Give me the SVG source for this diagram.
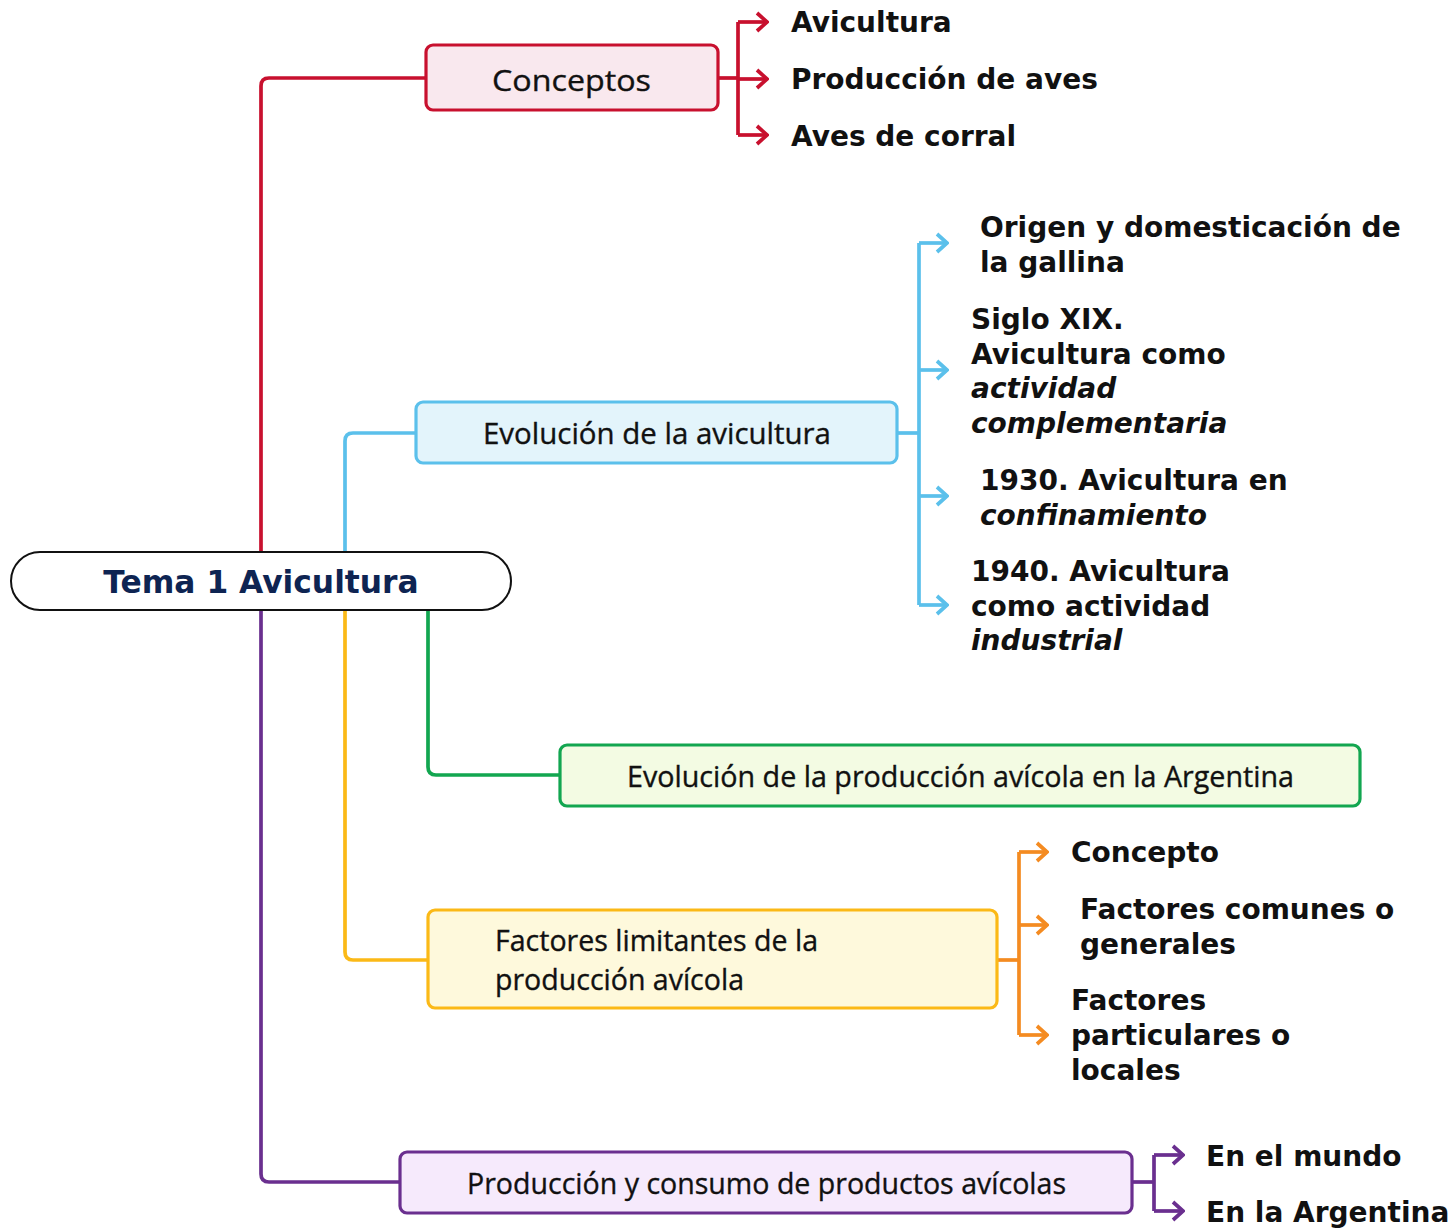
<svg xmlns="http://www.w3.org/2000/svg" width="1456" height="1229" viewBox="0 0 1456 1229">
<style>
.box{stroke-width:3.2}
.lbl{font-family:"Open Sans","Noto Sans","Liberation Sans",sans-serif;font-size:29px;fill:#111;stroke:#111;stroke-width:0.35}
.leaf{font-family:"DejaVu Sans","Verdana",sans-serif;font-weight:bold;font-size:28px;fill:#111}
.it{font-style:italic}
.ln{fill:none;stroke-width:3.7;stroke-linejoin:round}
</style>
<defs>
<marker id="mr" markerUnits="userSpaceOnUse" markerWidth="14" markerHeight="22" viewBox="0 0 14 22" refX="12" refY="11" orient="auto"><path d="M2,2 L12,11 L2,20" fill="none" stroke="#c8102e" stroke-width="3.7"/></marker>
<marker id="mb" markerUnits="userSpaceOnUse" markerWidth="14" markerHeight="22" viewBox="0 0 14 22" refX="12" refY="11" orient="auto"><path d="M2,2 L12,11 L2,20" fill="none" stroke="#5bc0eb" stroke-width="3.7"/></marker>
<marker id="mo" markerUnits="userSpaceOnUse" markerWidth="14" markerHeight="22" viewBox="0 0 14 22" refX="12" refY="11" orient="auto"><path d="M2,2 L12,11 L2,20" fill="none" stroke="#f48b21" stroke-width="3.7"/></marker>
<marker id="mp" markerUnits="userSpaceOnUse" markerWidth="14" markerHeight="22" viewBox="0 0 14 22" refX="12" refY="11" orient="auto"><path d="M2,2 L12,11 L2,20" fill="none" stroke="#6a2f8f" stroke-width="3.7"/></marker>
</defs>
<rect width="1456" height="1229" fill="#fff"/>
<g id="connectors">
<path class="ln" stroke="#c8102e" d="M261,552 V86 Q261,78 269,78 H426"/>
<path class="ln" stroke="#5bc0eb" d="M345,552 V441 Q345,433 353,433 H416"/>
<path class="ln" stroke="#12a650" d="M428,610 V767 Q428,775 436,775 H560"/>
<path class="ln" stroke="#fbb917" d="M345,610 V952 Q345,960 353,960 H428"/>
<path class="ln" stroke="#6a2f8f" d="M261,610 V1174 Q261,1182 269,1182 H400"/>
<path class="ln" stroke="#c8102e" d="M718,78 H738"/>
<path class="ln" stroke="#c8102e" d="M738,22 V135"/>
<path class="ln" stroke="#c8102e" marker-end="url(#mr)" d="M738,22 H767"/>
<path class="ln" stroke="#c8102e" marker-end="url(#mr)" d="M738,79 H767"/>
<path class="ln" stroke="#c8102e" marker-end="url(#mr)" d="M738,135 H767"/>
<path class="ln" stroke="#5bc0eb" d="M897,433 H919"/>
<path class="ln" stroke="#5bc0eb" d="M919,243 V605"/>
<path class="ln" stroke="#5bc0eb" marker-end="url(#mb)" d="M919,243 H947"/>
<path class="ln" stroke="#5bc0eb" marker-end="url(#mb)" d="M919,370 H947"/>
<path class="ln" stroke="#5bc0eb" marker-end="url(#mb)" d="M919,496 H947"/>
<path class="ln" stroke="#5bc0eb" marker-end="url(#mb)" d="M919,605 H947"/>
<path class="ln" stroke="#f48b21" d="M997,960 H1019"/>
<path class="ln" stroke="#f48b21" d="M1019,852 V1035"/>
<path class="ln" stroke="#f48b21" marker-end="url(#mo)" d="M1019,852 H1047"/>
<path class="ln" stroke="#f48b21" marker-end="url(#mo)" d="M1019,925 H1047"/>
<path class="ln" stroke="#f48b21" marker-end="url(#mo)" d="M1019,1035 H1047"/>
<path class="ln" stroke="#6a2f8f" d="M1132,1182 H1154"/>
<path class="ln" stroke="#6a2f8f" d="M1154,1155 V1211"/>
<path class="ln" stroke="#6a2f8f" marker-end="url(#mp)" d="M1154,1155 H1183"/>
<path class="ln" stroke="#6a2f8f" marker-end="url(#mp)" d="M1154,1211 H1183"/>
</g>
<g id="center">
<rect x="11" y="552" width="500" height="58" rx="29" fill="#fff" stroke="#111" stroke-width="2"/>
<text x="261" y="593" text-anchor="middle" font-family="DejaVu Sans, Verdana, sans-serif" font-weight="bold" font-size="31.3" fill="#0e2452">Tema 1 Avicultura</text>
</g>
<g id="conceptos">
<rect class="box" x="426" y="45" width="292" height="65" rx="7" fill="#f9e8ee" stroke="#c8102e"/>
<text class="lbl" x="492" y="91" font-size="31" textLength="159" lengthAdjust="spacingAndGlyphs">Conceptos</text>
</g>
<g id="conceptos-hijos">
<text class="leaf" x="791" y="32">Avicultura</text>
<text class="leaf" x="791" y="89">Producción de aves</text>
<text class="leaf" x="791" y="146">Aves de corral</text>
</g>
<g id="evolucion">
<rect class="box" x="416" y="402" width="481" height="61" rx="7" fill="#e3f4fb" stroke="#5bc0eb"/>
<text class="lbl" x="483" y="444" textLength="348" lengthAdjust="spacingAndGlyphs">Evolución de la avicultura</text>
</g>
<g id="evolucion-hijos">
<text class="leaf" x="980" y="237">Origen y domesticación de</text>
<text class="leaf" x="980" y="272">la gallina</text>
<text class="leaf" x="971" y="329">Siglo XIX.</text>
<text class="leaf" x="971" y="364">Avicultura como</text>
<text class="leaf it" x="971" y="398">actividad</text>
<text class="leaf it" x="971" y="433">complementaria</text>
<text class="leaf" x="980" y="490">1930. Avicultura en</text>
<text class="leaf it" x="980" y="525">confinamiento</text>
<text class="leaf" x="971" y="581">1940. Avicultura</text>
<text class="leaf" x="971" y="616">como actividad</text>
<text class="leaf it" x="971" y="650">industrial</text>
</g>
<g id="argentina">
<rect class="box" x="560" y="745" width="800" height="61" rx="7" fill="#f3fbe3" stroke="#12a650"/>
<text class="lbl" x="627" y="787" textLength="667" lengthAdjust="spacingAndGlyphs">Evolución de la producción avícola en la Argentina</text>
</g>
<g id="factores">
<rect class="box" x="428" y="910" width="569" height="98" rx="7" fill="#fef9dc" stroke="#fbb917"/>
<text class="lbl" x="495" y="951" textLength="323" lengthAdjust="spacingAndGlyphs">Factores limitantes de la</text>
<text class="lbl" x="495" y="990" textLength="249" lengthAdjust="spacingAndGlyphs">producción avícola</text>
</g>
<g id="factores-hijos">
<text class="leaf" x="1071" y="862">Concepto</text>
<text class="leaf" x="1080" y="919">Factores comunes o</text>
<text class="leaf" x="1080" y="954">generales</text>
<text class="leaf" x="1071" y="1010">Factores</text>
<text class="leaf" x="1071" y="1045">particulares o</text>
<text class="leaf" x="1071" y="1080">locales</text>
</g>
<g id="consumo">
<rect class="box" x="400" y="1152" width="732" height="61" rx="7" fill="#f6eafc" stroke="#6a2f8f"/>
<text class="lbl" x="467" y="1194" textLength="599" lengthAdjust="spacingAndGlyphs">Producción y consumo de productos avícolas</text>
</g>
<g id="consumo-hijos">
<text class="leaf" x="1206" y="1166">En el mundo</text>
<text class="leaf" x="1206" y="1222">En la Argentina</text>
</g>
</svg>
